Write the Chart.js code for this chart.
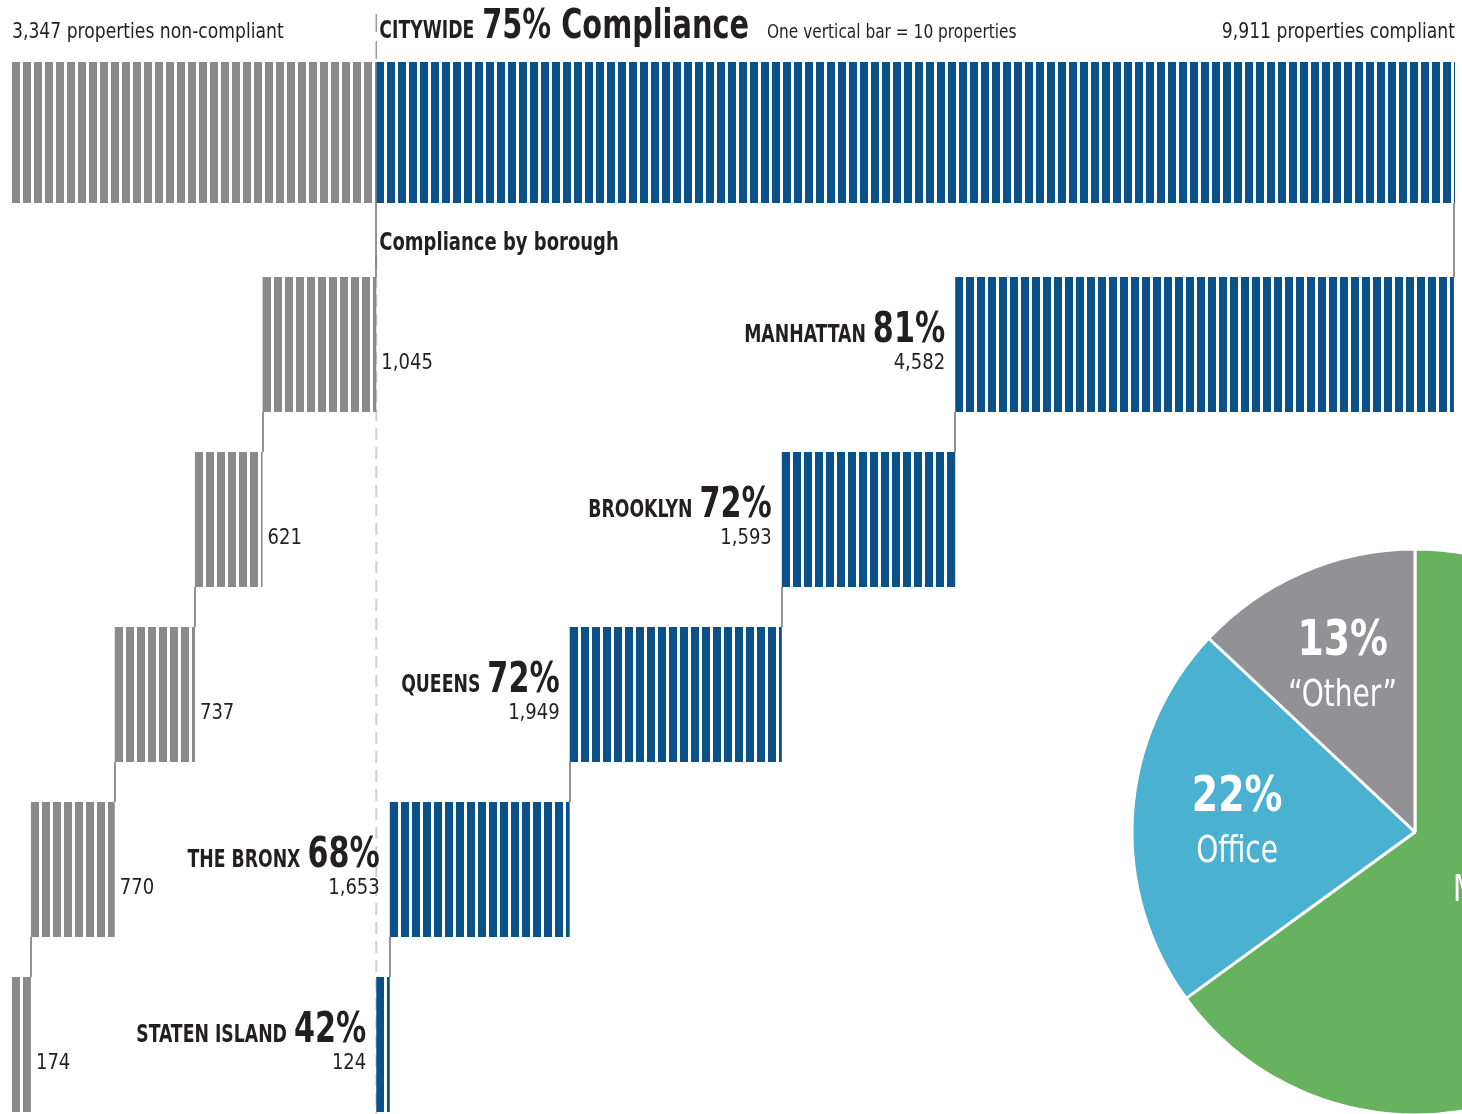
<!DOCTYPE html>
<html><head><meta charset="utf-8">
<script src="https://cdn.jsdelivr.net/npm/chart.js@4.4.1/dist/chart.umd.min.js"></script>
<style>
html,body{margin:0;padding:0;width:1462px;height:1114px;overflow:hidden;background:#fff;}
canvas{position:absolute;}
#city{left:0;top:0;}
#boro{left:0;top:203px;}
#pie{left:1115px;top:532px;}
</style></head><body>
<canvas id="city" width="1462" height="203"></canvas>
<canvas id="boro" width="1462" height="929"></canvas>
<canvas id="pie" width="600" height="600"></canvas>
<script>
// ---- data ----
const boroughs = ['MANHATTAN','BROOKLYN','QUEENS','THE BRONX','STATEN ISLAND'];
const nonCompliant = [1045, 621, 737, 770, 174];
const compliant = [4582, 1593, 1949, 1653, 124];
const compliancePct = [81, 72, 72, 68, 42];
const citywideNonCompliant = 3347;
const citywideCompliant = 9911;
const citywidePct = 75;
const pieLabels = ['Multifamily', 'Office', '\u201cOther\u201d'];
const pieValues = [65, 22, 13];

// ---- styles ----
const FONT = "'DejaVu Sans Condensed','DejaVu Sans',sans-serif";
const INK = '#231f20';
const GRAY = '#8a8a8a';
const BLUE = '#0b5189';
const pieColors = ['#66b25e', '#4bb1d0', '#929296'];
const pieLabelRadius = [0.42, 0.63, 0.643];
const pieLabelAngleShift = [-13.3, 0, 0];
const NARROW_BOLD = 0.8, NARROW = 0.91;
const fmt = v => v.toLocaleString('en-US');

// horizontally condensed text helper
function drawText(ctx, text, x, y, align, sx) {
  const w = ctx.measureText(text).width * sx;
  const lx = align === 'right' ? x - w : align === 'center' ? x - w / 2 : x;
  ctx.save(); ctx.textAlign = 'left'; ctx.translate(lx, y); ctx.scale(sx, 1); ctx.fillText(text, 0, 0); ctx.restore();
  return w;
}

// derived floating ranges (waterfall steps)
const grayRanges = [];
let acc = 0;
nonCompliant.forEach(v => { grayRanges.push([-(acc + v), -acc]); acc += v; });
const blueRanges = new Array(compliant.length);
acc = 0;
for (let i = compliant.length - 1; i >= 0; i--) { blueRanges[i] = [acc, acc + compliant[i]]; acc += compliant[i]; }

const xOpts = {type:'linear', min:-citywideNonCompliant, max:citywideCompliant, display:false};

const stripes = {
  id:'stripes',
  afterDatasetsDraw(chart){
    const ctx = chart.ctx;
    ctx.save(); ctx.fillStyle = '#fff';
    chart.data.datasets.forEach((ds, di) => {
      chart.getDatasetMeta(di).data.forEach(el => {
        const p = el.getProps(['x','base','y','height'], true);
        const l = Math.round(Math.min(p.x, p.base)), r = Math.round(Math.max(p.x, p.base));
        const t = p.y - p.height / 2;
        for (let sx = l + 8; sx < r - 1; sx += 11) ctx.fillRect(sx, t, Math.min(3, r - sx), p.height);
      });
    });
    ctx.restore();
  }
};

const cityText = {
  id:'cityText',
  afterDatasetsDraw(chart){
    const {ctx, chartArea, scales:{x}} = chart;
    const zero = x.getPixelForValue(0);
    ctx.save();
    ctx.strokeStyle = '#9a9a9a'; ctx.lineWidth = 1.5; ctx.setLineDash([18, 9]);
    ctx.beginPath(); ctx.moveTo(zero, 14); ctx.lineTo(zero, chartArea.top); ctx.stroke();
    ctx.setLineDash([]);
    ctx.fillStyle = INK; ctx.textBaseline = 'alphabetic';
    const base = 38;
    ctx.font = `21px ${FONT}`;
    drawText(ctx, `${fmt(citywideNonCompliant)} properties non-compliant`, chartArea.left, base, 'left', NARROW);
    drawText(ctx, `${fmt(citywideCompliant)} properties compliant`, chartArea.right, base, 'right', NARROW);
    let cx = zero + 3;
    ctx.font = `bold 24px ${FONT}`;
    cx += drawText(ctx, 'CITYWIDE', cx, base, 'left', NARROW_BOLD) + 8;
    ctx.font = `bold 40px ${FONT}`;
    cx += drawText(ctx, `${citywidePct}% Compliance`, cx, base, 'left', NARROW_BOLD) + 18;
    ctx.font = `19px ${FONT}`;
    drawText(ctx, 'One vertical bar = 10 properties', cx, base, 'left', 0.9);
    ctx.restore();
  }
};

const boroDeco = {
  id:'boroDeco',
  beforeDatasetsDraw(chart){
    const {ctx, chartArea, scales:{x}} = chart;
    const zero = x.getPixelForValue(0);
    ctx.save(); ctx.strokeStyle = '#cfcfcf'; ctx.lineWidth = 2; ctx.setLineDash([12, 7]);
    ctx.beginPath(); ctx.moveTo(zero, chartArea.top); ctx.lineTo(zero, chart.height); ctx.stroke();
    ctx.restore();
  },
  afterDatasetsDraw(chart){
    const {ctx, scales:{x}} = chart;
    const zero = x.getPixelForValue(0);
    const g = chart.getDatasetMeta(0).data, b = chart.getDatasetMeta(1).data;
    const top = el => { const p = el.getProps(['y','height'], true); return p.y - p.height / 2; };
    const bot = el => { const p = el.getProps(['y','height'], true); return p.y + p.height / 2; };
    ctx.save();
    ctx.strokeStyle = '#6f6f6f'; ctx.lineWidth = 1.5;
    const vline = (px, y1, y2) => { ctx.beginPath(); ctx.moveTo(Math.round(px), y1); ctx.lineTo(Math.round(px), y2); ctx.stroke(); };
    for (let i = 0; i < boroughs.length; i++) {
      const yTopG = i === 0 ? 0 : bot(g[i - 1]);
      const yTopB = i === 0 ? 0 : bot(b[i - 1]);
      vline(x.getPixelForValue(grayRanges[i][1]), yTopG, top(g[i]));
      vline(x.getPixelForValue(blueRanges[i][1]), yTopB, top(b[i]));
    }
    ctx.fillStyle = INK; ctx.textBaseline = 'alphabetic';
    boroughs.forEach((name, i) => {
      const bp = b[i].getProps(['x','base','y'], true);
      const bl = Math.min(bp.x, bp.base);
      const cy = bp.y;
      ctx.font = `bold 42px ${FONT}`;
      const w = drawText(ctx, compliancePct[i] + '%', bl - 10, cy - 3, 'right', NARROW_BOLD);
      ctx.font = `bold 24px ${FONT}`;
      drawText(ctx, name, bl - 10 - w - 7, cy - 3, 'right', NARROW_BOLD);
      ctx.font = `22px ${FONT}`;
      drawText(ctx, fmt(compliant[i]), bl - 10, cy + 24, 'right', NARROW);
      const gp = g[i].getProps(['x','base'], true);
      drawText(ctx, fmt(nonCompliant[i]), Math.max(gp.x, gp.base) + 5, cy + 24, 'left', NARROW);
    });
    ctx.font = `bold 25px ${FONT}`;
    drawText(ctx, 'Compliance by borough', zero + 3, 47, 'left', NARROW_BOLD);
    ctx.restore();
  }
};

const pieText = {
  id:'pieText',
  afterDatasetsDraw(chart){
    const ctx = chart.ctx;
    ctx.save(); ctx.fillStyle = '#fff'; ctx.textBaseline = 'alphabetic';
    chart.getDatasetMeta(0).data.forEach((a, i) => {
      const p = a.getProps(['x','y','startAngle','endAngle','outerRadius'], true);
      const mid = (p.startAngle + p.endAngle) / 2 + pieLabelAngleShift[i] * Math.PI / 180;
      const r = p.outerRadius * pieLabelRadius[i];
      const x = p.x + Math.cos(mid) * r, y = p.y + Math.sin(mid) * r;
      ctx.font = `bold 50px ${FONT}`;
      drawText(ctx, pieValues[i] + '%', x, y - 10, 'center', 0.84);
      ctx.font = `38px ${FONT}`;
      drawText(ctx, pieLabels[i], x, y + 41, 'center', 0.82);
    });
    ctx.restore();
  }
};

const common = {
  responsive:false, animation:false, events:[],
  indexAxis:'y',
  plugins:{legend:{display:false}, tooltip:{enabled:false}},
};

new Chart(document.getElementById('city'), {
  type:'bar',
  data:{labels:['CITYWIDE'], datasets:[
    {data:[[-citywideNonCompliant, 0]], backgroundColor:GRAY, grouped:false, barPercentage:1, categoryPercentage:1},
    {data:[[0, citywideCompliant]], backgroundColor:BLUE, grouped:false, barPercentage:1, categoryPercentage:1}
  ]},
  options:{...common, layout:{padding:{top:62, left:12, right:7, bottom:0}},
    scales:{x:xOpts, y:{type:'category', display:false}}},
  plugins:[stripes, cityText]
});

new Chart(document.getElementById('boro'), {
  type:'bar',
  data:{labels:boroughs, datasets:[
    {data:grayRanges, backgroundColor:GRAY, grouped:false, barPercentage:0.771, categoryPercentage:1},
    {data:blueRanges, backgroundColor:BLUE, grouped:false, barPercentage:0.771, categoryPercentage:1}
  ]},
  options:{...common, layout:{padding:{top:54, left:12, right:7, bottom:0}},
    scales:{x:xOpts, y:{type:'category', display:false}}},
  plugins:[boroDeco, stripes]
});

new Chart(document.getElementById('pie'), {
  type:'pie',
  data:{labels:pieLabels, datasets:[{data:pieValues, backgroundColor:pieColors, borderColor:'#fff', borderWidth:3}]},
  options:{responsive:false, animation:false, events:[], radius:283, layout:{padding:0},
    plugins:{legend:{display:false}, tooltip:{enabled:false}}},
  plugins:[pieText]
});
</script>
</body></html>
